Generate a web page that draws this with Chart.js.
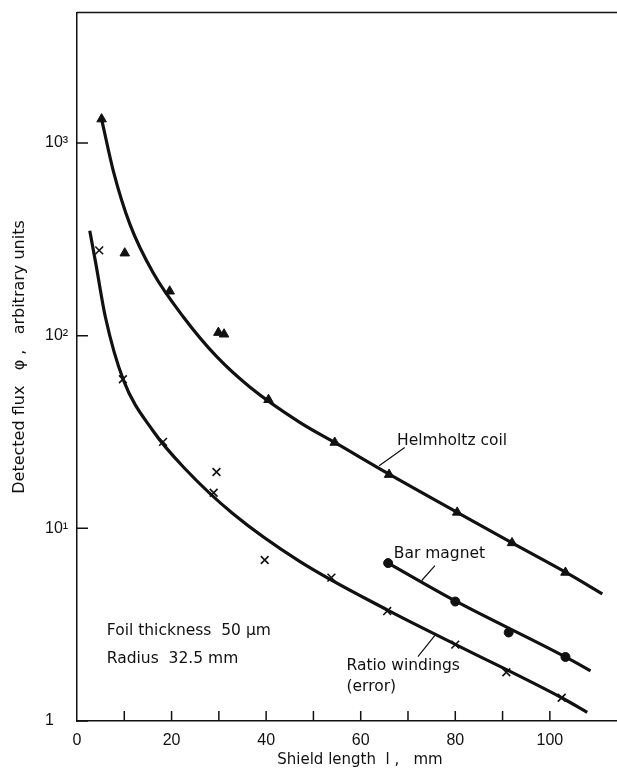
<!DOCTYPE html>
<html>
<head>
<meta charset="utf-8">
<script src="https://cdn.jsdelivr.net/npm/chart.js@4.4.1/dist/chart.umd.min.js"></script>
<style>
    html, body { margin: 0; padding: 0; background: #fff; }
    #wrap { width: 617px; height: 778px; }
</style>
</head>
<body>
<div id="wrap"><canvas id="fluxChart" width="617" height="778"></canvas></div>
<script>
// ------------------------------------------------------
// Data (x = shield length mm, y = flux)
// ------------------------------------------------------
const helmholtzX = [5.2, 10.1, 19.6, 29.9, 31.1, 40.5, 54.5, 66, 80.4, 92, 103.3];
const helmholtzY = [1330, 268, 170, 103.7, 101.7, 46.5, 27.9, 19, 12.1, 8.4, 5.9];

const barMagnetX = [65.8, 80, 91.3, 103.3];
const barMagnetY = [6.6, 4.17, 2.88, 2.15];

const ratioX = [4.7, 9.7, 18.2, 29.5, 28.9, 39.7, 53.8, 65.6, 80, 90.8, 102.5];
const ratioY = [277, 59.4, 28.1, 19.6, 15.3, 6.85, 5.55, 3.72, 2.49, 1.79, 1.32];

// hand-drawn smooth curves through the points
const helmholtzCurveX = [5.2, 7.7, 11.2, 16.1, 22.5, 29.5, 36.6, 47.1, 54.5, 66, 80.4, 92, 103.3, 111.1];
const helmholtzCurveY = [1330, 713, 378, 212, 125, 78, 54, 35.5, 27.9, 19.1, 12.1, 8.4, 5.92, 4.57];

const barCurveX = [65.8, 80, 103.3, 108.6];
const barCurveY = [6.6, 4.2, 2.15, 1.82];

const ratioCurveX = [2.7, 4.0, 6.0, 9.8, 16.1, 23, 33, 47, 65.8, 80, 102.5, 107.9];
const ratioCurveY = [350, 235, 125, 59, 32, 20.2, 11.9, 6.76, 3.75, 2.5, 1.32, 1.11];

const xTickValues = [0, 20, 40, 60, 80, 100];
const xMinorTicks = [10, 20, 30, 40, 50, 60, 70, 80, 90, 100];
const yTickValues = [1, 10, 100, 1000];
const yTickLabels = ["1", "10\u00B9", "10\u00B2", "10\u00B3"];

const INK = "#111";
const TEXT_FONT = "15.5px 'DejaVu Sans', sans-serif";

const toPoints = (xs, ys) => xs.map((x, i) => ({ x: x, y: ys[i] }));

document.addEventListener("DOMContentLoaded", () => {

    // ------------------------------------------------------
    // Frame, inward ticks, labels and titles
    // ------------------------------------------------------
    const notes = [
        { text: "Helmholtz coil", x: 67.7, y: 28.5 },
        { text: "Bar magnet", x: 67.0, y: 7.4 },
        { text: "Ratio windings", x: 57.0, y: 1.92 },
        { text: "(error)", x: 57.0, y: 1.51 },
        { text: "Foil thickness  50 \u03BCm", x: 6.3, y: 2.95 },
        { text: "Radius  32.5 mm", x: 6.3, y: 2.11 }
    ];
    const leaders = [
        [69.3, 26.3, 63.9, 21.1],
        [75.7, 6.41, 72.9, 5.36],
        [72.1, 2.16, 75.7, 2.78]
    ];

    const paperPlugin = {
        id: "paper",
        afterDraw(chart) {
            const { ctx, chartArea: area, scales: { x, y } } = chart;
            ctx.save();
            ctx.strokeStyle = INK;
            ctx.fillStyle = INK;
            ctx.lineWidth = 1.5;

            // top edge of the frame
            ctx.beginPath();
            ctx.moveTo(area.left, area.top);
            ctx.lineTo(area.right, area.top);
            ctx.stroke();

            ctx.beginPath();
            xMinorTicks.forEach(v => {
                const px = x.getPixelForValue(v);
                ctx.moveTo(px, area.bottom);
                ctx.lineTo(px, area.bottom - 10);
            });
            yTickValues.forEach(v => {
                const py = y.getPixelForValue(v);
                ctx.moveTo(area.left, py);
                ctx.lineTo(area.left + 11, py);
            });
            ctx.stroke();

            // leader lines to the curve labels
            ctx.lineWidth = 1.2;
            ctx.beginPath();
            leaders.forEach(([x1, y1, x2, y2]) => {
                ctx.moveTo(x.getPixelForValue(x1), y.getPixelForValue(y1));
                ctx.lineTo(x.getPixelForValue(x2), y.getPixelForValue(y2));
            });
            ctx.stroke();

            ctx.font = TEXT_FONT;
            ctx.textAlign = "left";
            ctx.textBaseline = "middle";
            notes.forEach(n => {
                ctx.fillText(n.text, x.getPixelForValue(n.x), y.getPixelForValue(n.y));
            });

            // axis titles
            ctx.font = "15px 'DejaVu Sans', sans-serif";
            ctx.textAlign = "center";
            ctx.fillText("Shield length  l ,   mm", 360, 760);

            ctx.font = "16px 'DejaVu Sans', sans-serif";
            ctx.save();
            ctx.translate(20, 357);
            ctx.rotate(-Math.PI / 2);
            ctx.fillText("Detected flux   \u03C6 ,   arbitrary units", 0, 0);
            ctx.restore();

            ctx.restore();
        }
    };

    const curveStyle = {
        showLine: true,
        pointRadius: 0,
        borderColor: INK,
        borderWidth: 3.2,
        cubicInterpolationMode: "monotone",
        order: 1
    };

    const canvas = document.getElementById("fluxChart");
    if (canvas && typeof Chart !== "undefined") {
        new Chart(canvas, {
            type: "scatter",
            data: {
                datasets: [
                    {
                        label: "Helmholtz coil",
                        data: toPoints(helmholtzX, helmholtzY),
                        pointStyle: "triangle",
                        pointRadius: 5.5,
                        backgroundColor: INK,
                        borderColor: INK,
                        order: 0
                    },
                    {
                        label: "Bar magnet",
                        data: toPoints(barMagnetX, barMagnetY),
                        pointStyle: "circle",
                        pointRadius: 4.5,
                        backgroundColor: INK,
                        borderColor: INK,
                        order: 0
                    },
                    {
                        label: "Ratio windings (error)",
                        data: toPoints(ratioX, ratioY),
                        pointStyle: "crossRot",
                        pointRadius: 5.5,
                        borderWidth: 1.6,
                        borderColor: INK,
                        order: 0
                    },
                    Object.assign({ label: "Helmholtz curve", data: toPoints(helmholtzCurveX, helmholtzCurveY) }, curveStyle),
                    Object.assign({ label: "Bar magnet curve", data: toPoints(barCurveX, barCurveY) }, curveStyle),
                    Object.assign({ label: "Ratio curve", data: toPoints(ratioCurveX, ratioCurveY) }, curveStyle)
                ]
            },
            options: {
                responsive: false,
                animation: false,
                events: [],
                layout: {
                    autoPadding: false,
                    padding: { left: 45, top: 11, right: 0, bottom: 0 }
                },
                plugins: {
                    legend: { display: false },
                    tooltip: { enabled: false }
                },
                scales: {
                    x: {
                        type: "linear",
                        min: 0,
                        max: 114.2,
                        afterFit: scale => {
                            scale.height = 57;
                            scale.paddingLeft = 0;
                            scale.paddingRight = 0;
                        },
                        afterBuildTicks: scale => {
                            scale.ticks = xTickValues.map(v => ({ value: v }));
                        },
                        grid: { display: false, drawTicks: false },
                        border: { display: true, color: INK, width: 1.5 },
                        ticks: {
                            padding: 10,
                            color: INK,
                            maxRotation: 0,
                            font: { family: "'Liberation Sans', sans-serif", size: 16 }
                        }
                    },
                    y: {
                        type: "logarithmic",
                        min: 1,
                        max: 4750,
                        afterFit: scale => { scale.width = 32; },
                        afterBuildTicks: scale => {
                            scale.ticks = yTickValues.map(v => ({ value: v }));
                        },
                        grid: { display: false, drawTicks: false },
                        border: { display: true, color: INK, width: 1.5 },
                        ticks: {
                            crossAlign: "far",
                            color: INK,
                            font: { family: "'Liberation Sans', sans-serif", size: 16 },
                            callback: value => {
                                const i = yTickValues.indexOf(value);
                                return i >= 0 ? yTickLabels[i] : "";
                            }
                        }
                    }
                }
            },
            plugins: [paperPlugin]
        });
    }

});
</script>
</body>
</html>
